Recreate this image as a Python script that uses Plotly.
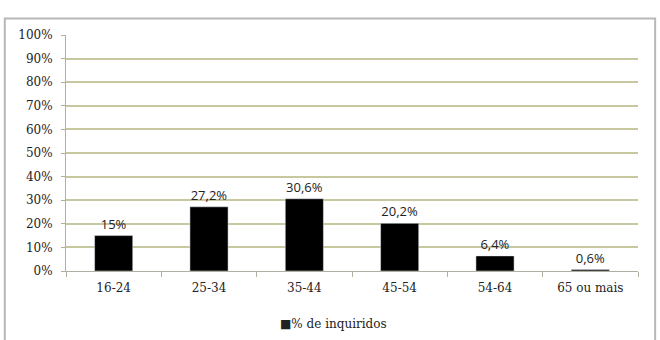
import plotly.graph_objects as go

categories = ["16-24", "25-34", "35-44", "45-54", "54-64", "65 ou mais"]
values = [15, 27.2, 30.6, 20.2, 6.4, 0.6]
labels = ["15%", "27,2%", "30,6%", "20,2%", "6,4%", "0,6%"]
series_name = "% de inquiridos"
y_ticks = list(range(0, 101, 10))

SERIF = "DejaVu Serif, serif"

fig = go.Figure()
fig.add_trace(go.Bar(
    x=categories, y=values, name=series_name,
    marker=dict(color="black"),
    text=labels, textposition="outside", cliponaxis=False,
    textfont=dict(family="Open Sans", size=13, color="#222"),
    showlegend=False,
))

fig.update_layout(
    width=660, height=340,
    margin=dict(l=66, r=22, t=35, b=69, autoexpand=False),
    paper_bgcolor="white", plot_bgcolor="white",
    bargap=0.6,
    font=dict(family=SERIF, size=12, color="#222"),
    xaxis=dict(
        showgrid=False, showline=True, linecolor="#b0b0a0", linewidth=1,
        ticks="outside", ticklen=5, tickcolor="#b0b0a0", tickson="boundaries",
        ticklabelstandoff=6,
        tickfont=dict(family=SERIF, size=12),
    ),
    yaxis=dict(
        range=[0, 100], tickvals=y_ticks, ticktext=[f"{v}%" for v in y_ticks],
        showgrid=True, gridcolor="#c8c8a0", gridwidth=1.5,
        showline=True, linecolor="#b0b0a0", linewidth=1,
        ticks="outside", ticklen=4, tickcolor="#b0b0a0",
        ticklabelstandoff=6,
        zeroline=False,
        tickfont=dict(family=SERIF, size=12),
    ),
    annotations=[dict(
        xref="paper", yref="paper", x=0.468, y=-0.224, xanchor="center", yanchor="middle",
        text="■" + series_name, showarrow=False,
        font=dict(family=SERIF, size=12, color="#222"),
    )],
    shapes=[dict(
        type="rect", xref="paper", yref="paper",
        x0=-0.107, x1=1.03, y0=-0.32, y1=1.07,
        line=dict(color="#b8b8b8", width=2), fillcolor="rgba(0,0,0,0)", layer="below",
    )],
)

fig.write_html("out.html")
